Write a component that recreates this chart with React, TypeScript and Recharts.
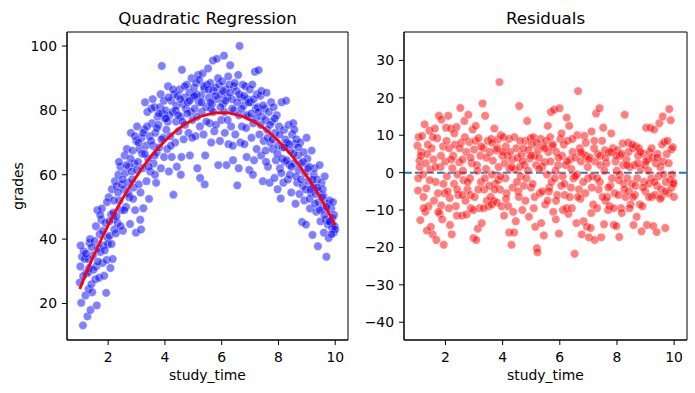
import { ComposedChart, Scatter, XAxis, YAxis, ReferenceArea, ReferenceLine } from 'recharts'

// study_time vs grades
const GRADE_POINTS: [number, number][] = [
  [1.02, 31.5], [1.05, 20.2], [1.08, 34.5], [1.11, 13.2], [1.14, 36.2], [1.17, 33.8], [1.2, 22.5], [1.23, 29.6], [1.0, 26.5],
  [1.27, 16.0], [1.29, 29.5], [1.31, 24.5], [1.34, 38.8], [1.36, 40.0], [1.38, 18.0], [1.41, 26.0], [1.44, 23.5], [1.47, 35.0], [1.3, 33.8],
  [1.52, 39.4], [1.55, 27.5], [1.58, 31.5], [1.6, 19.4], [1.62, 49.0], [1.65, 37.2], [1.68, 28.0], [1.7, 41.5], [1.73, 36.0],
  [1.76, 46.0], [1.78, 49.5], [1.8, 32.6], [1.83, 38.0], [1.86, 28.6], [1.9, 45.0], [1.93, 23.3], [1.95, 33.5], [1.98, 40.4], [1.99, 38.4],
  [2.02, 53.0], [2.05, 41.0], [2.08, 31.0], [2.1, 47.6], [2.13, 55.5], [2.16, 33.8], [2.19, 46.3], [2.22, 43.0], [2.24, 58.0], [2.18, 48.2],
  [2.27, 41.8], [2.3, 56.5], [2.33, 45.0], [2.36, 60.0], [2.4, 52.0], [2.43, 62.5], [2.46, 49.0], [2.48, 57.0], [2.38, 64.0],
  [2.52, 42.6], [2.55, 55.5], [2.58, 66.0], [2.6, 60.5], [2.63, 50.0], [2.66, 68.0], [2.7, 57.5], [2.73, 62.5], [2.74, 53.0],
  [2.77, 44.7], [2.8, 73.0], [2.83, 61.0], [2.86, 67.5], [2.89, 56.0], [2.92, 63.5], [2.95, 49.0], [2.98, 42.0], [2.99, 70.5], [2.85, 58.5],
  [3.02, 75.0], [3.05, 64.0], [3.08, 57.0], [3.1, 68.0], [3.13, 46.0], [3.16, 43.0], [3.18, 71.5], [3.21, 62.0], [3.24, 49.6], [3.2, 66.5],
  [3.27, 74.0], [3.3, 82.5], [3.33, 69.0], [3.35, 58.0], [3.38, 79.5], [3.41, 65.0], [3.44, 52.5], [3.46, 72.0], [3.48, 61.0],
  [3.52, 80.5], [3.55, 76.0], [3.58, 69.0], [3.6, 63.5], [3.63, 81.0], [3.66, 73.0], [3.69, 57.5], [3.71, 67.0], [3.74, 78.0], [3.65, 60.0],
  [3.77, 75.5], [3.8, 68.5], [3.83, 81.0], [3.86, 62.0], [3.89, 93.8], [3.91, 79.0], [3.94, 71.5], [3.97, 65.5], [3.99, 77.5], [3.85, 85.0],
  [4.02, 80.0], [4.05, 74.0], [4.08, 68.0], [4.11, 87.5], [4.14, 61.0], [4.16, 78.5], [4.19, 72.0], [4.22, 83.0], [4.24, 65.5], [4.1, 76.5],
  [4.27, 79.5], [4.3, 53.8], [4.33, 85.0], [4.36, 70.0], [4.39, 76.5], [4.42, 62.5], [4.45, 84.5], [4.48, 73.5], [4.4, 81.5],
  [4.52, 86.5], [4.55, 78.0], [4.58, 65.5], [4.6, 92.6], [4.63, 82.0], [4.66, 71.0], [4.69, 84.0], [4.71, 75.5], [4.74, 80.5], [4.56, 60.0],
  [4.77, 88.0], [4.8, 82.5], [4.83, 73.0], [4.86, 85.5], [4.88, 66.0], [4.91, 79.5], [4.94, 90.0], [4.97, 77.0], [4.99, 84.0],
  [5.02, 87.0], [5.05, 80.5], [5.08, 72.0], [5.11, 85.0], [5.14, 62.0], [5.17, 91.0], [5.2, 82.5], [5.23, 75.0], [5.24, 59.0], [5.1, 88.5],
  [5.27, 84.5], [5.3, 79.5], [5.33, 91.5], [5.36, 72.5], [5.39, 86.5], [5.42, 66.0], [5.45, 81.0], [5.48, 88.0], [5.4, 57.0],
  [5.52, 93.0], [5.55, 84.0], [5.58, 76.0], [5.6, 88.5], [5.63, 70.0], [5.66, 82.0], [5.69, 95.5], [5.71, 86.0], [5.74, 73.5], [5.62, 80.5],
  [5.77, 87.0], [5.8, 75.5], [5.83, 96.0], [5.86, 83.5], [5.88, 63.0], [5.91, 88.0], [5.94, 70.5], [5.97, 85.0], [5.99, 77.0],
  [6.02, 89.0], [6.05, 82.0], [6.08, 97.0], [6.11, 73.0], [6.14, 86.5], [6.17, 63.0], [6.2, 84.0], [6.23, 90.5], [6.24, 69.5], [6.1, 79.5],
  [6.27, 88.0], [6.3, 94.0], [6.33, 75.0], [6.36, 83.5], [6.39, 69.0], [6.42, 87.5], [6.45, 80.0], [6.48, 72.5], [6.4, 64.5],
  [6.52, 86.0], [6.55, 56.7], [6.58, 91.0], [6.61, 78.5], [6.63, 100.0], [6.66, 70.0], [6.69, 84.0], [6.71, 75.0], [6.74, 88.0], [6.6, 62.0],
  [6.77, 81.5], [6.8, 69.5], [6.83, 87.5], [6.86, 74.5], [6.88, 65.5], [6.91, 83.5], [6.94, 78.0], [6.97, 61.5], [6.99, 86.5],
  [7.02, 82.5], [7.05, 71.5], [7.08, 88.0], [7.11, 76.0], [7.14, 64.5], [7.17, 92.0], [7.2, 80.5], [7.23, 68.0], [7.24, 85.0], [7.1, 60.0],
  [7.27, 81.0], [7.3, 92.5], [7.33, 72.5], [7.36, 84.5], [7.39, 66.0], [7.42, 78.0], [7.45, 58.0], [7.48, 70.5], [7.4, 86.0],
  [7.52, 80.5], [7.55, 67.5], [7.58, 85.5], [7.6, 74.0], [7.63, 62.5], [7.66, 79.5], [7.69, 57.5], [7.71, 70.0], [7.74, 82.5], [7.56, 64.0],
  [7.77, 76.5], [7.8, 68.0], [7.83, 81.0], [7.86, 59.0], [7.88, 73.0], [7.91, 64.5], [7.94, 78.5], [7.97, 55.5], [7.99, 69.0],
  [8.02, 75.0], [8.05, 62.0], [8.08, 52.6], [8.11, 82.5], [8.14, 68.5], [8.17, 57.5], [8.2, 74.0], [8.23, 64.0], [8.24, 71.0], [8.1, 60.5],
  [8.27, 83.0], [8.3, 70.0], [8.33, 58.5], [8.36, 75.5], [8.39, 63.0], [8.42, 67.5], [8.45, 54.5], [8.48, 72.5], [8.4, 60.0],
  [8.52, 76.0], [8.55, 63.5], [8.58, 69.5], [8.6, 51.0], [8.63, 71.0], [8.66, 57.5], [8.69, 66.0], [8.71, 61.5], [8.74, 54.0], [8.56, 74.0],
  [8.77, 70.0], [8.8, 63.5], [8.83, 45.3], [8.86, 56.5], [8.89, 67.0], [8.91, 52.0], [8.94, 60.5], [8.97, 44.5], [8.99, 71.5],
  [9.02, 65.0], [9.05, 58.0], [9.08, 62.5], [9.11, 49.5], [9.14, 54.5], [9.17, 67.5], [9.2, 41.3], [9.23, 56.5], [9.24, 60.0], [9.1, 52.5],
  [9.27, 62.0], [9.3, 54.0], [9.33, 48.5], [9.36, 58.5], [9.39, 37.8], [9.42, 51.5], [9.45, 63.0], [9.48, 45.5], [9.4, 55.0],
  [9.52, 57.5], [9.55, 49.5], [9.58, 53.5], [9.6, 42.0], [9.63, 59.5], [9.66, 46.0], [9.69, 34.5], [9.71, 51.0], [9.74, 44.5], [9.56, 55.5],
  [9.77, 40.3], [9.8, 52.0], [9.83, 45.0], [9.86, 49.5], [9.89, 43.5], [9.92, 51.5], [9.95, 42.0], [9.98, 44.0], [10.0, 43.0], [9.9, 46.5],
  [1.03, 38.0], [1.12, 28.5], [1.22, 35.5], [1.33, 31.0], [1.42, 37.5], [1.48, 30.5], [1.57, 44.0], [1.64, 33.0], [1.72, 47.5], [1.81, 42.5],
  [1.88, 36.5], [1.96, 51.5], [2.04, 45.5], [2.12, 38.5], [2.21, 52.0], [2.29, 47.0], [2.35, 54.5], [2.44, 44.0], [2.51, 58.5], [2.57, 49.0],
  [2.65, 63.0], [2.72, 54.0], [2.79, 65.0], [2.88, 52.5], [2.94, 72.0], [3.01, 61.5], [3.07, 70.0], [3.14, 54.5], [3.23, 73.0], [3.29, 66.5],
  [3.37, 75.0], [3.43, 62.5], [3.51, 70.5], [3.57, 83.5], [3.64, 66.0], [3.72, 74.5], [3.79, 79.0], [3.88, 71.0], [3.96, 83.0], [4.04, 77.5],
  [4.13, 84.0], [4.21, 69.0], [4.29, 86.5], [4.38, 80.0], [4.47, 78.5], [4.54, 83.5], [4.62, 76.5], [4.7, 87.5], [4.79, 79.0], [4.87, 83.0],
  [4.96, 71.5], [5.04, 84.5], [5.13, 78.0], [5.21, 89.5], [5.29, 82.5], [5.37, 87.5], [5.46, 76.5], [5.54, 86.5], [5.61, 82.5], [5.7, 79.5],
  [5.79, 84.5], [5.87, 90.0], [5.96, 81.0], [6.04, 86.0], [6.13, 83.0], [6.21, 77.0], [6.29, 85.5], [6.37, 80.5], [6.46, 88.5], [6.54, 82.5],
  [6.62, 85.0], [6.7, 80.5], [6.79, 84.5], [6.87, 78.5], [6.96, 82.5], [7.04, 79.0], [7.13, 83.5], [7.21, 77.5], [7.29, 79.5], [7.37, 75.5],
  [7.46, 81.5], [7.54, 77.0], [7.62, 71.5], [7.7, 75.5], [7.79, 71.0], [7.87, 77.5], [7.96, 66.5], [8.04, 72.5], [8.13, 65.0], [8.21, 68.5],
  [8.29, 64.5], [8.37, 69.5], [8.46, 62.5], [8.54, 66.5], [8.62, 59.5], [8.7, 68.5], [8.79, 58.5], [8.87, 64.0], [8.96, 55.5], [9.04, 62.0],
  [9.13, 55.5], [9.21, 58.5], [9.29, 51.0], [9.37, 56.0], [9.46, 49.0], [9.54, 53.0], [9.62, 47.5], [9.7, 50.0], [9.79, 45.5], [9.87, 41.5],
  [9.96, 47.5],
]

// fitted quadratic
const FIT_CURVE: [number, number][] = [
  [1.0, 24.5], [1.25, 30.0], [1.5, 35.0], [1.75, 39.8], [2.0, 44.3], [2.25, 48.5], [2.5, 52.5], [2.75, 56.1], [3.0, 59.5],
  [3.25, 62.7], [3.5, 65.6], [3.75, 68.2], [4.0, 70.5], [4.25, 72.6], [4.5, 74.4], [4.75, 75.9], [5.0, 77.1], [5.25, 78.1],
  [5.5, 78.7], [5.75, 79.2], [6.0, 79.3], [6.25, 79.2], [6.5, 78.7], [6.75, 78.1], [7.0, 77.1], [7.25, 75.9], [7.5, 74.4],
  [7.75, 72.6], [8.0, 70.5], [8.25, 68.2], [8.5, 65.6], [8.75, 62.7], [9.0, 59.5], [9.25, 56.1], [9.5, 52.5], [9.75, 48.5], [10.0, 44.3],
]

// study_time vs residual
const RESIDUAL_POINTS: [number, number][] = [
  [1.02, 7.2], [1.04, -4.8], [1.06, 9.5], [1.09, 3.2], [1.12, -12.7], [1.15, 5.5], [1.18, 9.8], [1.21, -0.5], [1.23, -6.5], [1.1, 1.5],
  [1.27, 12.9], [1.3, -10.5], [1.32, 2.5], [1.35, -15.5], [1.38, 7.5], [1.41, -9.0], [1.44, 11.2], [1.47, 0.8], [1.49, -14.5], [1.33, -4.2],
  [1.52, 6.5], [1.55, -16.5], [1.58, 3.5], [1.6, -7.5], [1.63, 11.8], [1.66, -2.5], [1.68, -18.0], [1.71, 9.2], [1.74, -5.5],
  [1.77, 15.2], [1.8, -11.0], [1.83, 1.5], [1.86, 14.2], [1.89, -12.5], [1.92, 7.0], [1.94, -19.3], [1.97, -5.5], [1.99, 3.0], [1.85, -8.8],
  [2.02, 12.0], [2.05, -1.0], [2.08, -5.0], [2.1, 15.2], [2.13, 6.5], [2.16, -14.0], [2.19, 11.8], [2.22, -16.5], [2.24, 1.2], [2.15, -6.8],
  [2.27, 4.5], [2.3, -3.0], [2.33, 7.5], [2.36, -9.0], [2.39, 12.2], [2.42, -0.5], [2.45, -6.0], [2.48, 2.8], [2.4, -11.5],
  [2.52, 17.3], [2.55, 8.0], [2.58, -11.5], [2.6, 3.5], [2.63, -2.0], [2.66, 13.8], [2.7, -7.5], [2.73, 5.5], [2.74, -11.2], [2.61, 0.5],
  [2.77, -4.5], [2.8, 15.5], [2.83, 8.2], [2.86, -1.5], [2.89, -9.5], [2.92, 2.5], [2.95, 11.5], [2.98, -17.5], [3.0, 6.2], [2.87, -6.0],
  [3.02, -6.5], [3.05, 8.5], [3.08, -18.0], [3.1, 2.0], [3.13, -15.0], [3.16, 9.2], [3.19, -9.5], [3.22, 4.5], [3.24, -2.5], [3.12, 0.5],
  [3.27, -13.5], [3.3, 18.5], [3.33, 6.5], [3.36, -4.5], [3.39, 15.2], [3.42, 1.0], [3.45, -7.5], [3.48, 8.5], [3.38, -1.5],
  [3.52, -9.0], [3.55, 5.5], [3.58, -6.5], [3.6, 9.0], [3.63, -0.5], [3.66, 3.2], [3.69, -7.5], [3.71, 11.8], [3.74, -3.0], [3.62, -8.5],
  [3.77, 6.0], [3.8, -8.0], [3.83, 8.8], [3.86, 1.5], [3.89, 24.2], [3.91, -4.5], [3.94, 10.0], [3.97, -9.0], [3.99, 4.5], [3.85, -2.0],
  [4.02, 9.5], [4.05, -11.5], [4.08, 2.5], [4.11, 7.0], [4.14, -5.5], [4.17, 4.5], [4.2, -9.0], [4.23, -16.0], [4.24, 1.0], [4.1, -1.5],
  [4.27, 5.5], [4.31, -19.3], [4.34, 3.5], [4.37, -10.5], [4.4, -16.0], [4.43, 0.8], [4.46, -13.0], [4.48, 6.5], [4.35, -4.0],
  [4.52, 4.0], [4.55, -5.0], [4.58, 17.8], [4.6, 1.5], [4.63, -1.0], [4.66, 4.8], [4.69, -10.0], [4.72, 6.5], [4.74, -3.5], [4.57, -6.5],
  [4.77, 2.0], [4.8, 8.5], [4.83, -1.5], [4.86, 13.8], [4.89, 0.5], [4.92, -11.8], [4.95, 3.8], [4.98, 9.2], [4.99, -4.0],
  [5.02, 7.5], [5.05, -3.0], [5.08, 9.5], [5.11, 4.5], [5.14, -14.5], [5.17, 2.0], [5.2, -20.2], [5.22, -21.3], [5.24, 6.0], [5.12, -6.5],
  [5.27, 4.0], [5.3, -5.5], [5.33, 9.0], [5.35, -13.5], [5.38, 1.5], [5.41, 7.0], [5.44, -16.8], [5.47, 2.8], [5.49, -8.5],
  [5.52, 8.5], [5.55, -0.5], [5.58, 12.5], [5.6, 5.5], [5.63, -4.0], [5.66, 9.5], [5.69, 16.2], [5.71, -2.5], [5.74, 7.0], [5.62, -5.0],
  [5.77, -10.5], [5.8, 16.8], [5.83, -1.5], [5.86, -12.5], [5.88, 5.5], [5.91, -6.0], [5.94, 2.0], [5.97, -16.3], [5.99, 17.2], [5.85, 0.5],
  [6.02, 9.0], [6.05, -3.5], [6.08, 4.5], [6.11, -10.0], [6.14, 7.5], [6.17, -6.0], [6.2, 2.0], [6.23, -9.5], [6.24, 14.7], [6.1, -1.0],
  [6.27, 8.5], [6.3, -11.0], [6.33, 12.5], [6.36, 3.5], [6.39, -4.0], [6.42, -9.5], [6.45, 5.5], [6.48, -1.5], [6.4, 1.0],
  [6.52, -21.7], [6.55, 4.0], [6.58, -13.5], [6.61, 10.0], [6.64, 21.8], [6.67, -4.5], [6.7, 6.5], [6.72, -7.0], [6.74, 3.0], [6.6, -0.5],
  [6.77, -16.5], [6.8, 5.0], [6.83, -13.0], [6.86, 9.8], [6.89, -5.5], [6.92, 4.5], [6.95, -14.5], [6.98, 1.5], [6.99, -1.5],
  [7.02, -17.3], [7.05, 4.0], [7.08, -14.8], [7.11, 11.0], [7.14, -1.0], [7.17, -8.5], [7.2, 6.5], [7.22, -18.0], [7.24, 3.0], [7.1, -10.8],
  [7.27, 15.8], [7.3, -9.5], [7.33, 5.0], [7.36, -4.5], [7.39, 17.2], [7.42, 2.0], [7.45, -17.3], [7.48, 8.5], [7.4, -2.5],
  [7.52, 12.0], [7.55, -13.8], [7.58, 6.0], [7.6, -7.5], [7.63, 2.5], [7.66, -6.5], [7.69, -10.0], [7.71, 5.5], [7.74, -9.0], [7.56, 0.5],
  [7.77, -3.5], [7.8, 10.5], [7.83, -1.5], [7.86, 6.5], [7.89, -14.0], [7.92, -5.5], [7.95, 3.0], [7.98, -14.3], [7.99, 0.5],
  [8.02, 6.0], [8.05, -6.0], [8.08, -17.2], [8.11, 4.5], [8.14, -9.5], [8.17, -10.8], [8.2, 7.8], [8.22, 2.0], [8.24, -3.0], [8.1, -0.5],
  [8.27, 15.5], [8.3, -6.5], [8.33, 3.5], [8.36, -1.5], [8.39, 8.0], [8.42, -5.0], [8.45, 1.5], [8.48, -8.5], [8.4, 5.5],
  [8.52, -3.0], [8.55, 6.5], [8.58, -14.0], [8.6, 2.0], [8.63, -6.0], [8.66, 7.0], [8.69, -11.8], [8.71, -1.5], [8.74, 4.5], [8.56, -6.5],
  [8.77, 6.5], [8.8, -8.5], [8.83, 1.0], [8.86, -15.7], [8.89, -9.0], [8.92, 5.0], [8.95, -2.5], [8.98, 2.0], [8.99, -5.0],
  [9.02, 12.0], [9.05, -14.0], [9.08, 3.5], [9.11, -3.0], [9.14, 5.5], [9.17, 12.0], [9.2, -1.5], [9.22, -6.5], [9.24, 4.0], [9.1, 0.5],
  [9.27, -14.3], [9.3, 11.5], [9.33, -6.0], [9.36, 2.5], [9.39, -15.9], [9.42, 5.0], [9.45, -1.0], [9.48, 13.2], [9.4, -3.5],
  [9.52, 1.5], [9.55, -4.5], [9.58, 7.5], [9.6, 15.0], [9.63, -0.5], [9.66, 8.2], [9.69, -14.8], [9.71, -2.5], [9.74, 5.0], [9.56, -6.5],
  [9.77, 8.5], [9.8, -5.5], [9.83, 17.0], [9.86, -2.0], [9.88, 14.0], [9.9, 6.2], [9.93, -0.5], [9.95, 6.8], [9.97, -2.5], [9.99, -6.5],
  [1.05, -1.5], [1.14, 4.5], [1.24, -9.5], [1.36, 5.0], [1.45, -2.0], [1.56, 9.5], [1.65, 1.5], [1.75, -10.5], [1.84, 4.5], [1.93, -3.0],
  [2.04, 8.5], [2.12, -9.5], [2.2, 3.5], [2.31, 10.5], [2.41, -4.5], [2.5, 6.5], [2.59, -6.0], [2.68, 9.5], [2.78, -2.5], [2.88, 4.0],
  [2.97, -10.0], [3.06, 12.5], [3.15, -4.5], [3.25, 7.0], [3.34, -9.5], [3.44, 4.0], [3.53, -3.5], [3.63, 8.0], [3.72, -4.5], [3.82, 6.5],
  [3.92, -1.0], [4.01, 5.5], [4.12, -7.0], [4.22, 9.0], [4.32, 1.5], [4.41, 9.5], [4.5, -2.5], [4.61, 8.5], [4.7, 3.0], [4.8, -7.5],
  [4.9, 6.0], [5.0, 4.5], [5.09, -9.5], [5.19, 8.0], [5.28, 1.0], [5.39, -5.0], [5.48, 6.5], [5.57, -7.5], [5.67, 3.0], [5.76, 7.5],
  [5.87, -7.5], [5.96, 4.0], [6.06, 10.5], [6.16, -3.0], [6.26, 3.0], [6.35, -6.5], [6.44, 9.0], [6.54, -1.0], [6.63, -6.5], [6.73, 5.5],
  [6.82, -2.5], [6.91, 8.0], [7.01, 3.5], [7.12, -4.0], [7.21, 8.5], [7.31, -1.5], [7.41, 4.5], [7.5, -6.5], [7.6, 4.0], [7.7, -4.0],
  [7.79, 5.5], [7.88, -9.5], [7.97, 4.5], [8.07, -2.0], [8.16, 5.0], [8.26, -4.5], [8.35, 2.0], [8.44, -9.5], [8.54, 7.5], [8.64, -3.5],
  [8.73, 2.5], [8.82, 5.5], [8.91, -4.0], [9.01, 3.0], [9.12, -6.5], [9.21, 6.5], [9.31, -2.5], [9.41, 4.0], [9.51, -7.0], [9.61, 3.0],
  [9.7, -5.0], [9.81, 2.5], [9.91, -4.0], [9.98, -3.0],
]

const X_TICKS = [2, 4, 6, 8, 10]
const GRADE_TICKS = [20, 40, 60, 80, 100]
const RESIDUAL_TICKS = [-40, -30, -20, -10, 0, 10, 20, 30]

const X_DOMAIN: [number, number] = [0.55, 10.45]
const GRADE_DOMAIN: [number, number] = [8.65, 104.35]
const RESIDUAL_DOMAIN: [number, number] = [-44.75, 37.6]

const FONT = '"DejaVu Sans", sans-serif'
const tickStyle = { fontSize: 13.9, fill: '#000', fontFamily: FONT }
const minus = (v: number) => String(v).replace('-', '\u2212')

const toXY = (pts: [number, number][]) => pts.map(([x, y]) => ({ x, y }))

function dot(color: string) {
  return (props: any) => (
    <circle
      cx={props.cx}
      cy={props.cy}
      r={4.2}
      fill={color}
      fillOpacity={0.5}
      stroke="#fff"
      strokeOpacity={0.5}
      strokeWidth={0.7}
    />
  )
}

const noDot = () => <g />

function Title({ text, center }: { text: string; center: number }) {
  return (
    <div
      style={{
        position: 'absolute', left: center - 150, top: 8, width: 300, textAlign: 'center',
        fontFamily: FONT, fontSize: 16.7, lineHeight: '20px', color: '#000',
      }}
    >
      {text}
    </div>
  )
}

export default function App() {
  const grades = toXY(GRADE_POINTS)
  const curve = toXY(FIT_CURVE)
  const residuals = toXY(RESIDUAL_POINTS)

  return (
    <div style={{ position: 'absolute', left: 0, top: 0, width: 695, height: 393, background: '#fff' }}>
      <Title text="Quadratic Regression" center={207.5} />
      <Title text="Residuals" center={545.5} />

      {/* left: grades with quadratic fit */}
      <div style={{ position: 'absolute', left: 0, top: 0 }}>
        <ComposedChart width={350} height={393} margin={{ top: 32, right: 2, bottom: 5, left: 0 }}>
          <XAxis
            type="number" dataKey="x" domain={X_DOMAIN} ticks={X_TICKS} allowDataOverflow
            tick={tickStyle} tickSize={5} tickMargin={7} height={48}
            stroke="#000" tickLine={{ stroke: '#000' }}
            label={{ value: 'study_time', position: 'insideBottom', offset: 8, style: { ...tickStyle } }}
          />
          <YAxis
            type="number" dataKey="y" domain={GRADE_DOMAIN} ticks={GRADE_TICKS} allowDataOverflow
            tick={tickStyle} tickSize={5} tickMargin={5} width={67}
            stroke="#000" tickLine={{ stroke: '#000' }}
            label={{ value: 'grades', angle: -90, position: 'insideLeft', offset: 18, style: { ...tickStyle, textAnchor: 'middle' } }}
          />
          <ReferenceArea x1={X_DOMAIN[0]} x2={X_DOMAIN[1]} y1={GRADE_DOMAIN[0]} y2={GRADE_DOMAIN[1]} fill="none" stroke="#000" strokeWidth={1} ifOverflow="visible" />
          <Scatter data={grades} shape={dot('#0000ff')} isAnimationActive={false} />
          <Scatter
            data={curve} shape={noDot} line={{ stroke: '#ff0000', strokeWidth: 2.8 }} lineType="joint"
            isAnimationActive={false}
          />
        </ComposedChart>
      </div>

      {/* right: residuals */}
      <div style={{ position: 'absolute', left: 350, top: 0 }}>
        <ComposedChart width={345} height={393} margin={{ top: 32, right: 8, bottom: 5, left: 0 }}>
          <XAxis
            type="number" dataKey="x" domain={X_DOMAIN} ticks={X_TICKS} allowDataOverflow
            tick={tickStyle} tickSize={5} tickMargin={7} height={48}
            stroke="#000" tickLine={{ stroke: '#000' }}
            label={{ value: 'study_time', position: 'insideBottom', offset: 8, style: { ...tickStyle } }}
          />
          <YAxis
            type="number" dataKey="y" domain={RESIDUAL_DOMAIN} ticks={RESIDUAL_TICKS} allowDataOverflow
            tick={tickStyle} tickSize={5} tickMargin={5} width={54} tickFormatter={minus}
            stroke="#000" tickLine={{ stroke: '#000' }}
          />
          <ReferenceArea x1={X_DOMAIN[0]} x2={X_DOMAIN[1]} y1={RESIDUAL_DOMAIN[0]} y2={RESIDUAL_DOMAIN[1]} fill="none" stroke="#000" strokeWidth={1} ifOverflow="visible" />
          <Scatter data={residuals} shape={dot('#ff0000')} isAnimationActive={false} />
          <ReferenceLine y={0} stroke="#1f77b4" strokeWidth={2} strokeDasharray="7.7 3.3" />
        </ComposedChart>
      </div>
    </div>
  )
}
